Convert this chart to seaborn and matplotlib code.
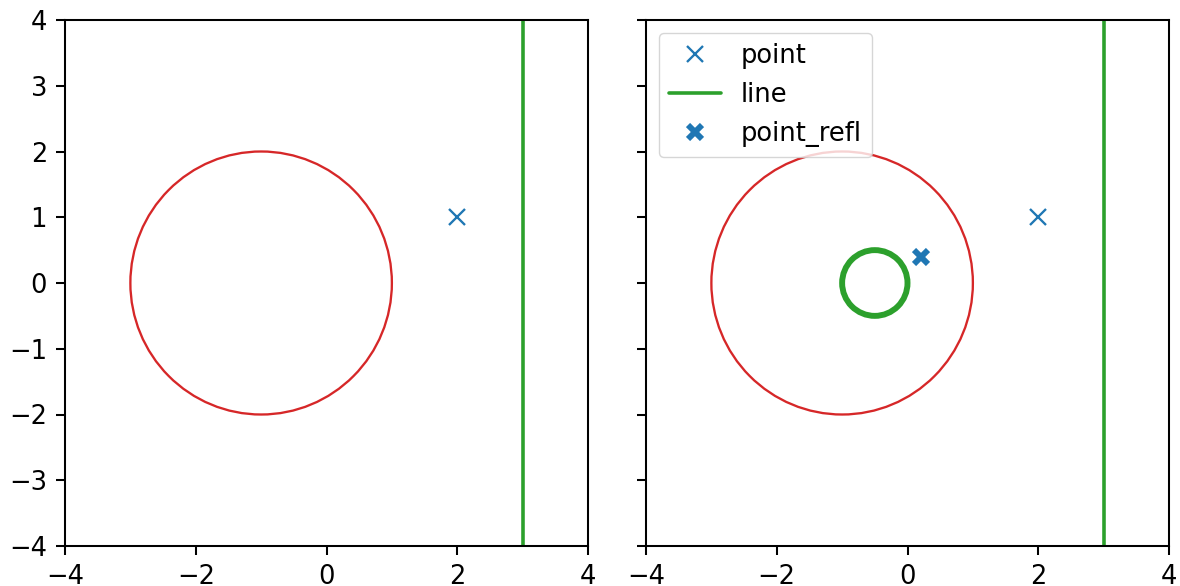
import matplotlib
matplotlib.use("Agg")
import matplotlib.pyplot as plt
from matplotlib.patches import Circle
import pandas as pd
import seaborn as sns

# scene data
circle_center = (-1.0, 0.0)
circle_radius = 2.0
point = (2.0, 1.0)
line_x = [3.0, 3.0]
line_y = [-4.0, 4.0]
# reflections in the circle
point_refl = (0.2, 0.4)
line_refl_center = (-0.5, 0.0)
line_refl_radius = 0.5

lim = [-4, 4]
ticks = [-4, -3, -2, -1, 0, 1, 2, 3, 4]

S = 1.85  # pt scale to match the target's pixel sizes at dpi 100

sns.set_theme(style="ticks")
plt.rcParams['font.family'] = ['DejaVu Sans']
plt.rcParams['font.size'] = 10 * S
plt.rcParams['text.color'] = 'black'
plt.rcParams['axes.linewidth'] = 0.8 * S
plt.rcParams['xtick.major.width'] = 0.8 * S
plt.rcParams['ytick.major.width'] = 0.8 * S
plt.rcParams['xtick.major.size'] = 3.5 * S
plt.rcParams['ytick.major.size'] = 3.5 * S
plt.rcParams['xtick.major.pad'] = 3.5 * S
plt.rcParams['ytick.major.pad'] = 3.5 * S
plt.rcParams['xtick.labelsize'] = 10 * S
plt.rcParams['ytick.labelsize'] = 10 * S
plt.rcParams['axes.edgecolor'] = 'black'
plt.rcParams['xtick.color'] = 'black'
plt.rcParams['ytick.color'] = 'black'

fig = plt.figure(figsize=(11.8, 5.86), dpi=100)
ax1 = fig.add_axes([65 / 1180, 40 / 586, 523 / 1180, 526 / 586])
ax2 = fig.add_axes([646 / 1180, 40 / 586, 523 / 1180, 526 / 586], sharey=ax1)

pt_df = pd.DataFrame({'x': [point[0]], 'y': [point[1]]})
line_df = pd.DataFrame({'x': line_x, 'y': line_y})
refl_df = pd.DataFrame({'x': [point_refl[0]], 'y': [point_refl[1]]})

for ax in (ax1, ax2):
    ax.add_patch(Circle(circle_center, circle_radius, fill=False,
                        edgecolor='tab:red', linewidth=0.9 * S))
    ax.plot(pt_df['x'], pt_df['y'], linestyle='none', marker='x',
            markersize=6 * S, markeredgewidth=0.9 * S, color='tab:blue', label='point')
    sns.lineplot(data=line_df, x='x', y='y', sort=False, estimator=None,
                 color='tab:green', linewidth=1.4 * S, ax=ax, label='line')

ax2.add_patch(Circle(line_refl_center, line_refl_radius, fill=False,
                     edgecolor='tab:green', linewidth=2.3 * S))
ax2.plot(refl_df['x'], refl_df['y'], linestyle='none', marker='x',
         markersize=5.5 * S, markeredgewidth=2.3 * S, color='tab:blue', label='point_refl')

for ax in (ax1, ax2):
    ax.set_xlim(lim)
    ax.set_ylim(lim)
    ax.set_xticks(ticks[::2])
    ax.set_yticks(ticks)
    ax.set_xlabel('')
    ax.set_ylabel('')

if ax1.get_legend():
    ax1.get_legend().remove()
plt.setp(ax2.get_yticklabels(), visible=False)
ax2.legend(loc='upper left', fontsize=10 * S, framealpha=0.8)

fig.savefig('out.png', dpi=100)
